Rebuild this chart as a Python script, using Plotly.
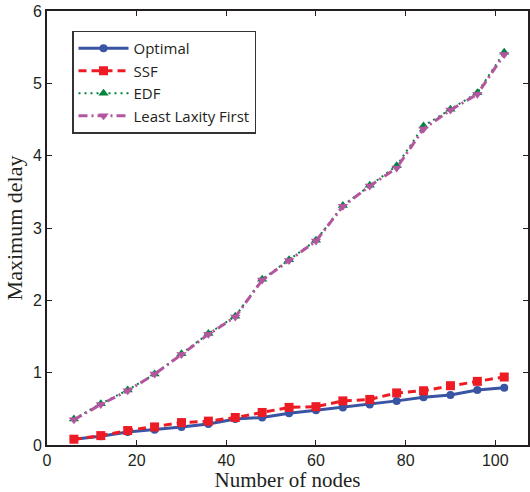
import plotly.graph_objects as go

nodes = [6, 12, 18, 24, 30, 36, 42, 48, 54, 60, 66, 72, 78, 84, 90, 96, 102]
optimal = [0.08, 0.12, 0.18, 0.21, 0.25, 0.29, 0.36, 0.38, 0.44, 0.48, 0.52, 0.56, 0.61, 0.66, 0.69, 0.76, 0.79]
ssf = [0.08, 0.13, 0.20, 0.25, 0.31, 0.33, 0.38, 0.45, 0.52, 0.53, 0.61, 0.63, 0.72, 0.75, 0.82, 0.88, 0.94]
edf = [0.36, 0.57, 0.76, 0.98, 1.26, 1.54, 1.78, 2.29, 2.56, 2.83, 3.31, 3.59, 3.86, 4.41, 4.64, 4.87, 5.43]
llf = [0.35, 0.56, 0.75, 0.98, 1.25, 1.53, 1.77, 2.28, 2.55, 2.82, 3.30, 3.58, 3.83, 4.37, 4.63, 4.85, 5.40]

fig = go.Figure()
fig.add_trace(go.Scatter(x=nodes, y=optimal, name="Optimal", mode="lines+markers",
                         line=dict(color="#3A54A4", width=3),
                         marker=dict(symbol="circle", size=8, color="#3A54A4")))
fig.add_trace(go.Scatter(x=nodes, y=ssf, name="SSF", mode="lines+markers",
                         line=dict(color="#ED1C24", width=3, dash="8px,5px"),
                         marker=dict(symbol="square", size=9, color="#ED1C24")))
fig.add_trace(go.Scatter(x=nodes, y=edf, name="EDF", mode="lines+markers",
                         line=dict(color="#00843D", width=2, dash="2px,4px"),
                         marker=dict(symbol="triangle-up", size=9, color="#00843D")))
fig.add_trace(go.Scatter(x=nodes, y=llf, name="Least Laxity First", mode="lines+markers",
                         line=dict(color="#B455A0", width=3, dash="9px,4px,2px,4px"),
                         marker=dict(symbol="triangle-down", size=9, color="#B455A0")))

axis_common = dict(showline=True, linecolor="#231F20", linewidth=2, mirror="ticks",
                   ticks="inside", ticklen=5, tickcolor="#231F20", showgrid=False,
                   zeroline=False, tickfont=dict(family="Liberation Sans, Arial", size=16, color="#231F20"))

fig.update_layout(
    width=530, height=492,
    margin=dict(l=47, r=0, t=11, b=47),
    paper_bgcolor="white", plot_bgcolor="white",
    xaxis=dict(range=[0, 107.3], tickvals=[0, 20, 40, 60, 80, 100],
               title=dict(text="Number of nodes", standoff=2,
                          font=dict(family="Liberation Serif, Times New Roman", size=21, color="#231F20")),
               **axis_common),
    yaxis=dict(range=[0, 6], tickvals=[0, 1, 2, 3, 4, 5, 6],
               title=dict(text="Maximum delay", standoff=4,
                          font=dict(family="Liberation Serif, Times New Roman", size=22, color="#231F20")),
               **axis_common),
    legend=dict(x=0.052, y=0.955, xanchor="left", yanchor="top",
                bordercolor="#333333", borderwidth=1.5, bgcolor="white",
                font=dict(family="Open Sans, Liberation Sans", size=15, color="#231F20"),
                tracegroupgap=0, itemwidth=50),
    showlegend=True,
)

fig.write_html("out.html")
